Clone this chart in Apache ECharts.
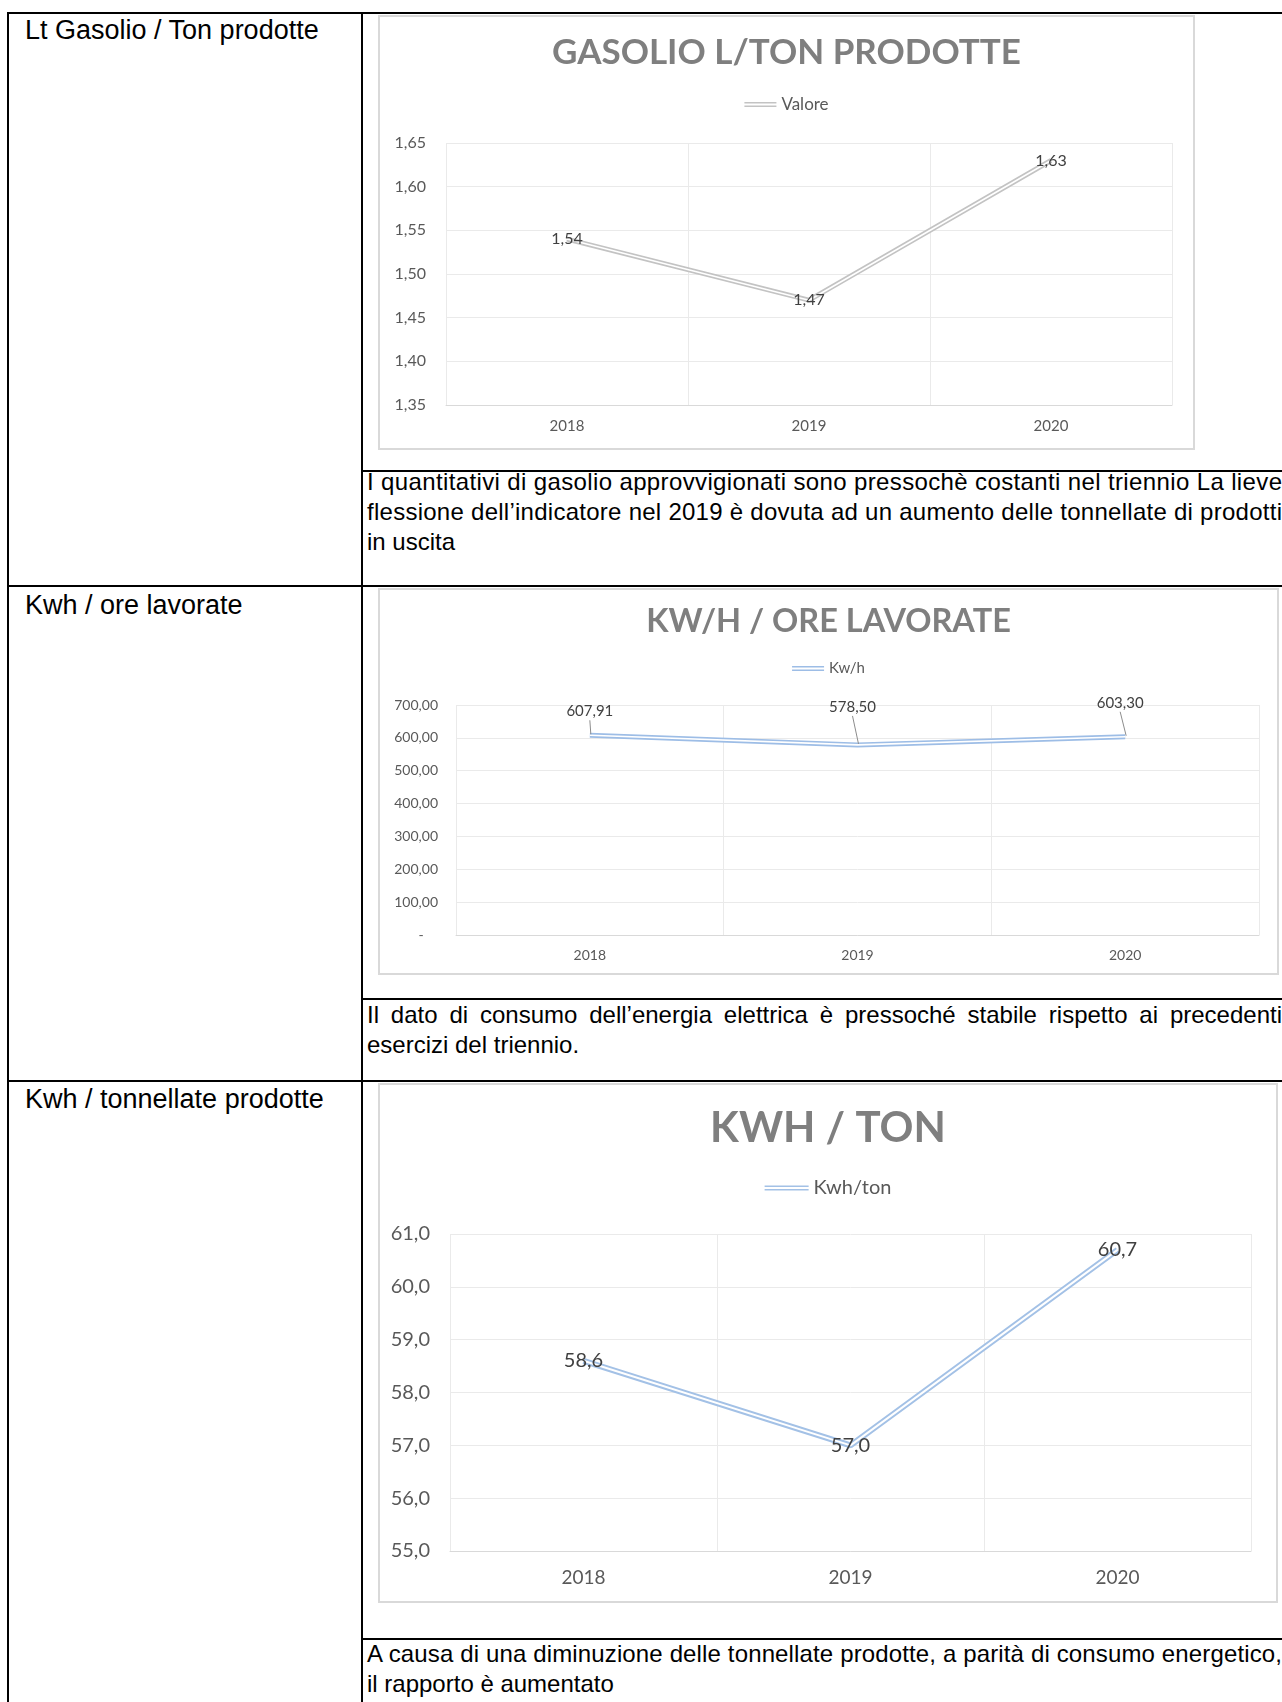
<!DOCTYPE html>
<html lang="it">
<head>
<meta charset="utf-8">
<title>Indicatori energetici 2018–2020</title>
<script src="https://cdn.jsdelivr.net/npm/echarts@6/dist/echarts.min.js"></script>
<style>
  html, body { margin: 0; padding: 0; background: #fff; }
  body { width: 1282px; height: 1702px; position: relative; overflow: hidden;
         font-family: "Liberation Sans", Arial, sans-serif; color: #000; }
  .rule  { position: absolute; background: #000; }
  .label { position: absolute; left: 25px; font-size: 27px; line-height: 30px; white-space: nowrap; }
  .note  { position: absolute; left: 367px; font-size: 24px; line-height: 30px; }
  .note div { white-space: nowrap; }
  .chart { position: absolute; }
  .frame { position: absolute; border: 2px solid #d9d9d9; box-sizing: border-box; pointer-events: none; }
</style>
</head>
<body>
<script>
// ---- data ----
const years = ['2018', '2019', '2020'];

const gasolioLitriTon = [1.54, 1.47, 1.63];
const gasolioAxis = { min: 1.35, max: 1.65, interval: 0.05 };

const kwhOreLavorate = [607.91, 578.50, 603.30];
const kwhOreAxis = { min: 0, max: 700, interval: 100 };

const kwhTonnellate = [58.6, 57.0, 60.7];
const kwhTonAxis = { min: 55, max: 61, interval: 1 };
</script>

<!-- table rules -->
<div class="rule" style="left:7px;top:12px;width:1275px;height:2px"></div>
<div class="rule" style="left:7px;top:12px;width:2px;height:1690px"></div>
<div class="rule" style="left:361px;top:12px;width:2px;height:1690px"></div>
<div class="rule" style="left:361px;top:470px;width:921px;height:2px"></div>
<div class="rule" style="left:7px;top:585px;width:1275px;height:2px"></div>
<div class="rule" style="left:361px;top:998px;width:921px;height:2px"></div>
<div class="rule" style="left:7px;top:1080px;width:1275px;height:2px"></div>
<div class="rule" style="left:361px;top:1638px;width:921px;height:2px"></div>

<!-- row headings -->
<div class="label" style="top:15px">Lt Gasolio / Ton prodotte</div>
<div class="label" style="top:590px">Kwh / ore lavorate</div>
<div class="label" style="top:1084px">Kwh / tonnellate prodotte</div>

<!-- comments under each chart -->
<div class="note" style="top:467px">
  <div class="full" data-fit="letter">I quantitativi di gasolio approvvigionati sono pressochè costanti nel triennio La lieve</div>
  <div class="full" data-fit="letter">flessione dell’indicatore nel 2019 è dovuta ad un aumento delle tonnellate di prodotti</div>
  <div>in uscita</div>
</div>
<div class="note" style="top:1000px">
  <div class="full" data-fit="word">Il dato di consumo dell’energia elettrica è pressoché stabile rispetto ai precedenti</div>
  <div>esercizi del triennio.</div>
</div>
<div class="note" style="top:1639px">
  <div class="full" data-fit="letter">A causa di una diminuzione delle tonnellate prodotte, a parità di consumo energetico,</div>
  <div>il rapporto è aumentato</div>
</div>

<!-- charts -->
<div id="c1" class="chart" style="left:378px;top:15px;width:817px;height:435px"></div>
<div class="frame" style="left:378px;top:15px;width:817px;height:435px"></div>
<div id="c2" class="chart" style="left:378px;top:588px;width:901px;height:387px"></div>
<div class="frame" style="left:378px;top:588px;width:901px;height:387px"></div>
<div id="c3" class="chart" style="left:378px;top:1083px;width:900px;height:520px"></div>
<div class="frame" style="left:378px;top:1083px;width:900px;height:520px"></div>

<script>
// Stretch full-width comment lines across the cell
const CELL_TEXT_WIDTH = 915;
document.querySelectorAll('.note .full').forEach(function (el) {
  el.style.display = 'inline-block';
  const natural = el.getBoundingClientRect().width;
  const extra = CELL_TEXT_WIDTH - natural;
  if (el.dataset.fit === 'word') {
    const spaces = (el.textContent.match(/ /g) || []).length;
    el.style.wordSpacing = (extra / spaces) + 'px';
  } else {
    const chars = el.textContent.length - 1;
    el.style.letterSpacing = (extra / chars) + 'px';
  }
  el.style.display = 'block';
});

function comma(v, digits) {
  return v.toFixed(digits).replace('.', ',');
}

const GRID_COLOR = '#eaeaea';
const TEXT_COLOR = '#595959';
const VALUE_COLOR = '#404040';

// Legend glyph: two thin parallel strokes
function doubleLineIcon(w) {
  return 'path://M0 0H' + w + 'V1.6H0ZM0 3.4H' + w + 'V5H0Z';
}

// A line drawn as a double stroke: a wide coloured line with a thin white core.
function buildChart(el, cfg) {
  const chart = echarts.init(el, null, { renderer: 'canvas' });
  const series = [
    {
      name: cfg.name, type: 'line', data: cfg.values, symbol: 'none', z: 2,
      lineStyle: { color: cfg.color, width: cfg.outer },
      itemStyle: { color: cfg.color }
    },
    {
      name: cfg.name + ' core', type: 'line', data: cfg.values, z: 3, silent: true,
      symbol: 'circle', symbolSize: 0, showSymbol: true,
      lineStyle: { color: '#ffffff', width: cfg.inner },
      itemStyle: { color: 'rgba(255,255,255,0)' },
      label: {
        show: !cfg.calloutLabels, position: 'inside',
        fontFamily: 'Lato', fontSize: cfg.labelSize, color: VALUE_COLOR,
        formatter: function (p) { return comma(p.value, cfg.digits); }
      }
    }
  ];
  if (cfg.calloutLabels) {
    // value labels lifted above the line, tied back to their point by a short leader
    const shift = cfg.calloutLabels;
    series.push({
      name: cfg.name + ' labels', type: 'custom', z: 4, silent: true,
      data: cfg.values.map(function (v, i) { return [i, v]; }),
      renderItem: function (params, api) {
        const i = api.value(0);
        const v = api.value(1);
        const p = api.coord([i, v]);
        const cx = p[0] + shift[i][0];
        const cy = p[1] + shift[i][1];
        return {
          type: 'group',
          children: [
            { type: 'line', shape: { x1: p[0] + 1, y1: p[1] - 1, x2: cx, y2: cy + 9 },
              style: { stroke: '#8c8c8c', lineWidth: 1 } },
            { type: 'text', x: cx, y: cy,
              style: { text: comma(v, cfg.digits), align: 'center', verticalAlign: 'middle',
                       fontFamily: 'Lato', fontSize: cfg.labelSize, fill: VALUE_COLOR } }
          ]
        };
      }
    });
  }
  chart.setOption({
    animation: false,
    title: {
      text: cfg.title, left: 'center', top: cfg.titleTop,
      textStyle: { fontFamily: 'Lato', fontWeight: 'bold', fontSize: cfg.titleSize, color: '#7f7f7f' }
    },
    legend: {
      data: [cfg.name], left: 'center', top: cfg.legendTop,
      icon: doubleLineIcon(cfg.iconWidth), itemWidth: cfg.iconWidth, itemHeight: 5,
      textStyle: { fontFamily: 'Lato', fontSize: cfg.legendSize, color: TEXT_COLOR }
    },
    grid: Object.assign({ outerBoundsMode: 'none', containLabel: false }, cfg.grid),
    xAxis: {
      type: 'category', data: years, boundaryGap: true,
      axisLine: { lineStyle: { color: '#d9d9d9', width: 1 } },
      axisTick: { show: false },
      axisLabel: { fontFamily: 'Lato', fontSize: cfg.xSize, color: TEXT_COLOR, margin: cfg.xMargin },
      splitLine: { show: true, lineStyle: { color: GRID_COLOR, width: 1 } }
    },
    yAxis: {
      type: 'value', min: cfg.axis.min, max: cfg.axis.max, interval: cfg.axis.interval,
      axisLine: { show: false }, axisTick: { show: false },
      axisLabel: { fontFamily: 'Lato', fontSize: cfg.ySize, color: TEXT_COLOR, margin: cfg.yMargin,
                   formatter: cfg.yFormat },
      splitLine: { show: true, lineStyle: { color: GRID_COLOR, width: 1 } }
    },
    series: series
  });
  return chart;
}

buildChart(document.getElementById('c1'), {
  title: 'GASOLIO L/TON PRODOTTE', titleTop: 15, titleSize: 35,
  name: 'Valore', legendTop: 76, legendSize: 17, iconWidth: 32,
  grid: { left: 68, right: 23, top: 128, bottom: 45 },
  axis: gasolioAxis, values: gasolioLitriTon, digits: 2,
  xSize: 15, xMargin: 14, ySize: 16, yMargin: 20,
  yFormat: function (v) { return comma(v, 2); },
  color: '#c3c3c3', outer: 5, inner: 1.6, labelSize: 16
});

buildChart(document.getElementById('c2'), {
  title: 'KW/H / ORE LAVORATE', titleTop: 12, titleSize: 32.5,
  name: 'Kw/h', legendTop: 68, legendSize: 15, iconWidth: 32,
  grid: { left: 78, right: 20, top: 117, bottom: 40 },
  axis: kwhOreAxis, values: kwhOreLavorate, digits: 2,
  xSize: 14, xMargin: 13, ySize: 14, yMargin: 18,
  yFormat: function (v) { return v === 0 ? '-    ' : comma(v, 2); },
  color: '#9dbde6', outer: 5, inner: 1.6, labelSize: 15,
  calloutLabels: [[0, -24], [-5, -38], [-5, -34]]
});

buildChart(document.getElementById('c3'), {
  title: 'KWH / TON', titleTop: 19, titleSize: 42,
  name: 'Kwh/ton', legendTop: 90, legendSize: 20, iconWidth: 44,
  grid: { left: 72, right: 27, top: 151, bottom: 52 },
  axis: kwhTonAxis, values: kwhTonnellate, digits: 1,
  xSize: 19, xMargin: 17, ySize: 20, yMargin: 20,
  yFormat: function (v) { return comma(v, 1); },
  color: '#a3c1e6', outer: 6, inner: 2, labelSize: 20
});
</script>
</body>
</html>
